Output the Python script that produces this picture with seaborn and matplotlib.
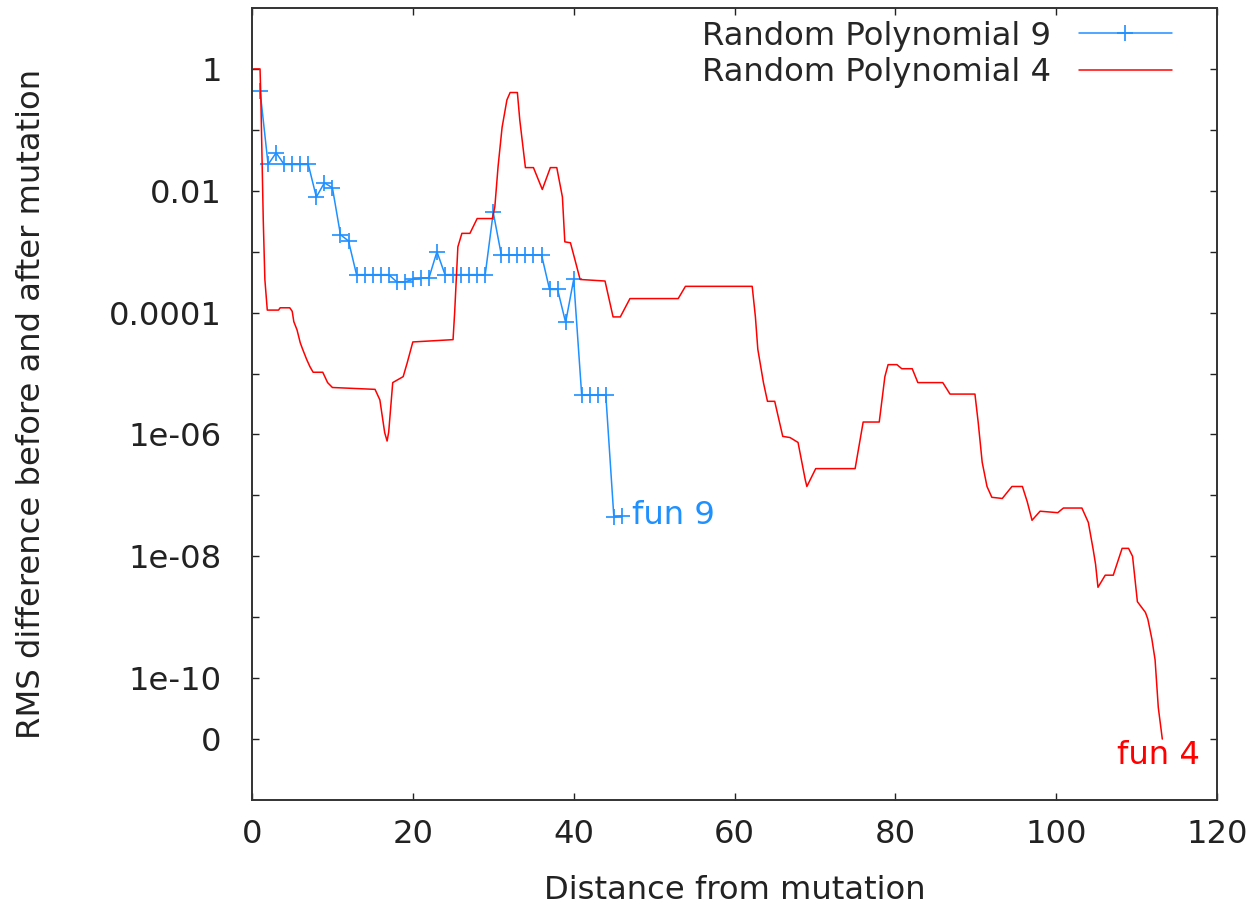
import numpy as np
import pandas as pd
import seaborn as sns
import matplotlib
matplotlib.use('Agg')
import matplotlib.pyplot as plt
from matplotlib.ticker import NullLocator

# Random Polynomial 9 (one point per step)
dist9 = [1, 2, 3, 4, 5, 6, 7, 8, 9, 10, 11, 12, 13, 14, 15, 16, 17, 18, 19, 20,
         21, 22, 23, 24, 25, 26, 27, 28, 29, 30, 31, 32, 33, 34, 35, 36, 37, 38,
         39, 40, 41, 42, 43, 44, 45, 46]
rms9 = [0.44, 0.027, 0.042, 0.027, 0.027, 0.027, 0.027, 7.9e-3, 0.0135, 0.0112,
        1.9e-3, 1.5e-3, 4.2e-4, 4.2e-4, 4.2e-4, 4.2e-4, 4.2e-4, 3.2e-4, 3.2e-4,
        3.5e-4, 3.7e-4, 3.7e-4, 1.0e-3, 4.2e-4, 4.2e-4, 4.2e-4, 4.2e-4, 4.2e-4,
        4.2e-4, 4.4e-3, 8.9e-4, 8.9e-4, 8.9e-4, 8.9e-4, 8.9e-4, 8.9e-4, 2.4e-4,
        2.4e-4, 6.9e-5, 3.5e-4, 4.4e-6, 4.4e-6, 4.4e-6, 4.4e-6, 4.4e-8, 4.6e-8]

# Random Polynomial 4 (finer sampling)
dist4 = [0.2, 1.0, 1.1, 1.4, 1.6, 1.9, 3.3, 3.5, 4.7, 5.0, 5.2, 5.6, 6.0, 6.3,
         6.8, 7.2, 7.6, 8.8, 9.4, 10.0, 15.3, 15.9, 16.5, 16.8, 17.0, 17.5, 18.8,
         19.3, 20.0, 25.0, 25.2, 25.6, 26.1, 27.1, 28.0, 29.9, 30.2, 30.6, 31.1,
         31.7, 32.1, 33.0, 33.3, 34.0, 35.0, 36.1, 37.1, 37.9, 38.6, 38.9, 39.6,
         40.1, 40.8, 43.9, 44.9, 45.8, 47.0, 53.0, 53.9, 62.2, 62.6, 62.9, 63.6,
         64.1, 65.0, 66.0, 66.9, 67.9, 68.8, 69.0, 70.1, 75.0, 76.0, 78.0, 78.7,
         79.1, 80.2, 80.8, 82.1, 82.8, 85.9, 86.8, 89.9, 90.3, 90.8, 91.4, 92.0,
         93.3, 94.5, 95.8, 96.4, 97.0, 98.0, 100.2, 100.9, 103.2, 104.0, 104.6,
         104.9, 105.2, 106.1, 107.1, 108.2, 109.0, 109.5, 110.1, 111.1, 111.4,
         111.9, 112.3, 112.7, 113.2]
rms4 = [1.0, 1.0, 0.33, 3.3e-3, 3.5e-4, 1.1e-4, 1.1e-4, 1.2e-4, 1.2e-4, 1.05e-4,
        7.1e-5, 5.2e-5, 3.2e-5, 2.5e-5, 1.7e-5, 1.3e-5, 1.05e-5, 1.05e-5, 7.1e-6,
        5.9e-6, 5.5e-6, 3.7e-6, 1.07e-6, 7.8e-7, 1.1e-6, 7.1e-6, 8.9e-6, 1.5e-5,
        3.3e-5, 3.6e-5, 1.0e-4, 1.2e-3, 2.0e-3, 2.0e-3, 3.5e-3, 3.5e-3, 5.5e-3,
        0.025, 0.11, 0.31, 0.41, 0.41, 0.145, 0.024, 0.024, 0.0105, 0.024, 0.024,
        7.9e-3, 1.45e-3, 1.4e-3, 7.9e-4, 3.5e-4, 3.3e-4, 8.5e-5, 8.5e-5, 1.7e-4,
        1.7e-4, 2.7e-4, 2.7e-4, 8.5e-5, 2.5e-5, 7.1e-6, 3.5e-6, 3.5e-6, 9.3e-7,
        8.9e-7, 7.4e-7, 1.8e-7, 1.4e-7, 2.75e-7, 2.75e-7, 1.6e-6, 1.6e-6, 8.9e-6,
        1.4e-5, 1.4e-5, 1.2e-5, 1.2e-5, 7.1e-6, 7.1e-6, 4.6e-6, 4.6e-6, 1.6e-6,
        3.5e-7, 1.4e-7, 9.3e-8, 8.9e-8, 1.4e-7, 1.4e-7, 7.9e-8, 3.9e-8, 5.5e-8,
        5.2e-8, 6.2e-8, 6.2e-8, 3.6e-8, 1.3e-8, 7.4e-9, 3.1e-9, 4.9e-9, 4.9e-9,
        1.35e-8, 1.35e-8, 1.0e-8, 1.8e-9, 1.2e-9, 9.3e-10, 4.4e-10, 2.0e-10,
        3.3e-11, 0.0]

# exact zeros are drawn on the "0" row of the log axis
ZERO_ROW = 1e-11
ytick_vals = [1e-11, 1e-10, 1e-9, 1e-8, 1e-7, 1e-6, 1e-5, 1e-4, 1e-3, 1e-2, 1e-1, 1]
ytick_labels = ['0', '1e-10', '', '1e-08', '', '1e-06', '', '0.0001', '', '0.01', '', '1']
xtick_vals = [0, 20, 40, 60, 80, 100, 120]

BLUE = '#1E90FF'
RED = '#FF0000'

df9 = pd.DataFrame({'dist': dist9, 'rms': rms9})
df4 = pd.DataFrame({'dist': dist4, 'rms': rms4})
df4.loc[df4['rms'] == 0, 'rms'] = ZERO_ROW

sns.set_style('ticks')
plt.rcParams['font.family'] = ['DejaVu Sans']
FS = 23.2

fig, ax = plt.subplots(figsize=(12.52, 9.07), dpi=100)
fig.subplots_adjust(left=252 / 1252, right=1217 / 1252, bottom=1 - 800 / 907, top=1 - 8 / 907)

sns.lineplot(data=df9, x='dist', y='rms', color=BLUE, lw=1.1, marker='+',
             markersize=11, markeredgewidth=1.2, markeredgecolor=BLUE,
             markerfacecolor=BLUE, estimator=None, sort=False,
             label='Random Polynomial 9', ax=ax)
sns.lineplot(data=df4, x='dist', y='rms', color=RED, lw=1.1,
             estimator=None, sort=False, label='Random Polynomial 4', ax=ax)

ax.set_yscale('log')
ax.set_ylim(1e-12, 10)
ax.set_xlim(0, 120)
ax.set_yticks(ytick_vals, ytick_labels)
ax.set_xticks(xtick_vals, [str(v) for v in xtick_vals])
ax.yaxis.set_minor_locator(NullLocator())
ax.xaxis.set_minor_locator(NullLocator())
ax.tick_params(axis='both', direction='in', top=True, right=True, length=5,
               width=1, labelsize=FS, colors='#222222')
ax.tick_params(axis='y', pad=22)
ax.tick_params(axis='x', pad=14)
for sp in ax.spines.values():
    sp.set_linewidth(1.4)
    sp.set_color('#333333')

ax.set_xlabel('Distance from mutation', fontsize=FS, labelpad=18, color='#222222')
ax.set_ylabel('RMS difference before and after mutation', fontsize=FS,
              labelpad=44, color='#222222')

# end-of-series labels
ax.annotate('fun 9', xy=(df9['dist'].iloc[-1], df9['rms'].iloc[-1]),
            xytext=(7, 0), textcoords='offset points', color=BLUE,
            fontsize=FS, ha='left', va='center')
ax.annotate('fun 4', xy=(df4['dist'].iloc[-1], df4['rms'].iloc[-1]),
            xytext=(-3, -1), textcoords='offset points', color=RED,
            fontsize=FS, ha='center', va='top')

ax.legend(loc='upper right', bbox_to_anchor=(0.9534, 0.984), frameon=False,
          markerfirst=False, fontsize=FS, handlelength=2.9, handletextpad=0.85,
          labelspacing=0.17, borderpad=0, borderaxespad=0, numpoints=1)

fig.savefig('out.png', dpi=100)
